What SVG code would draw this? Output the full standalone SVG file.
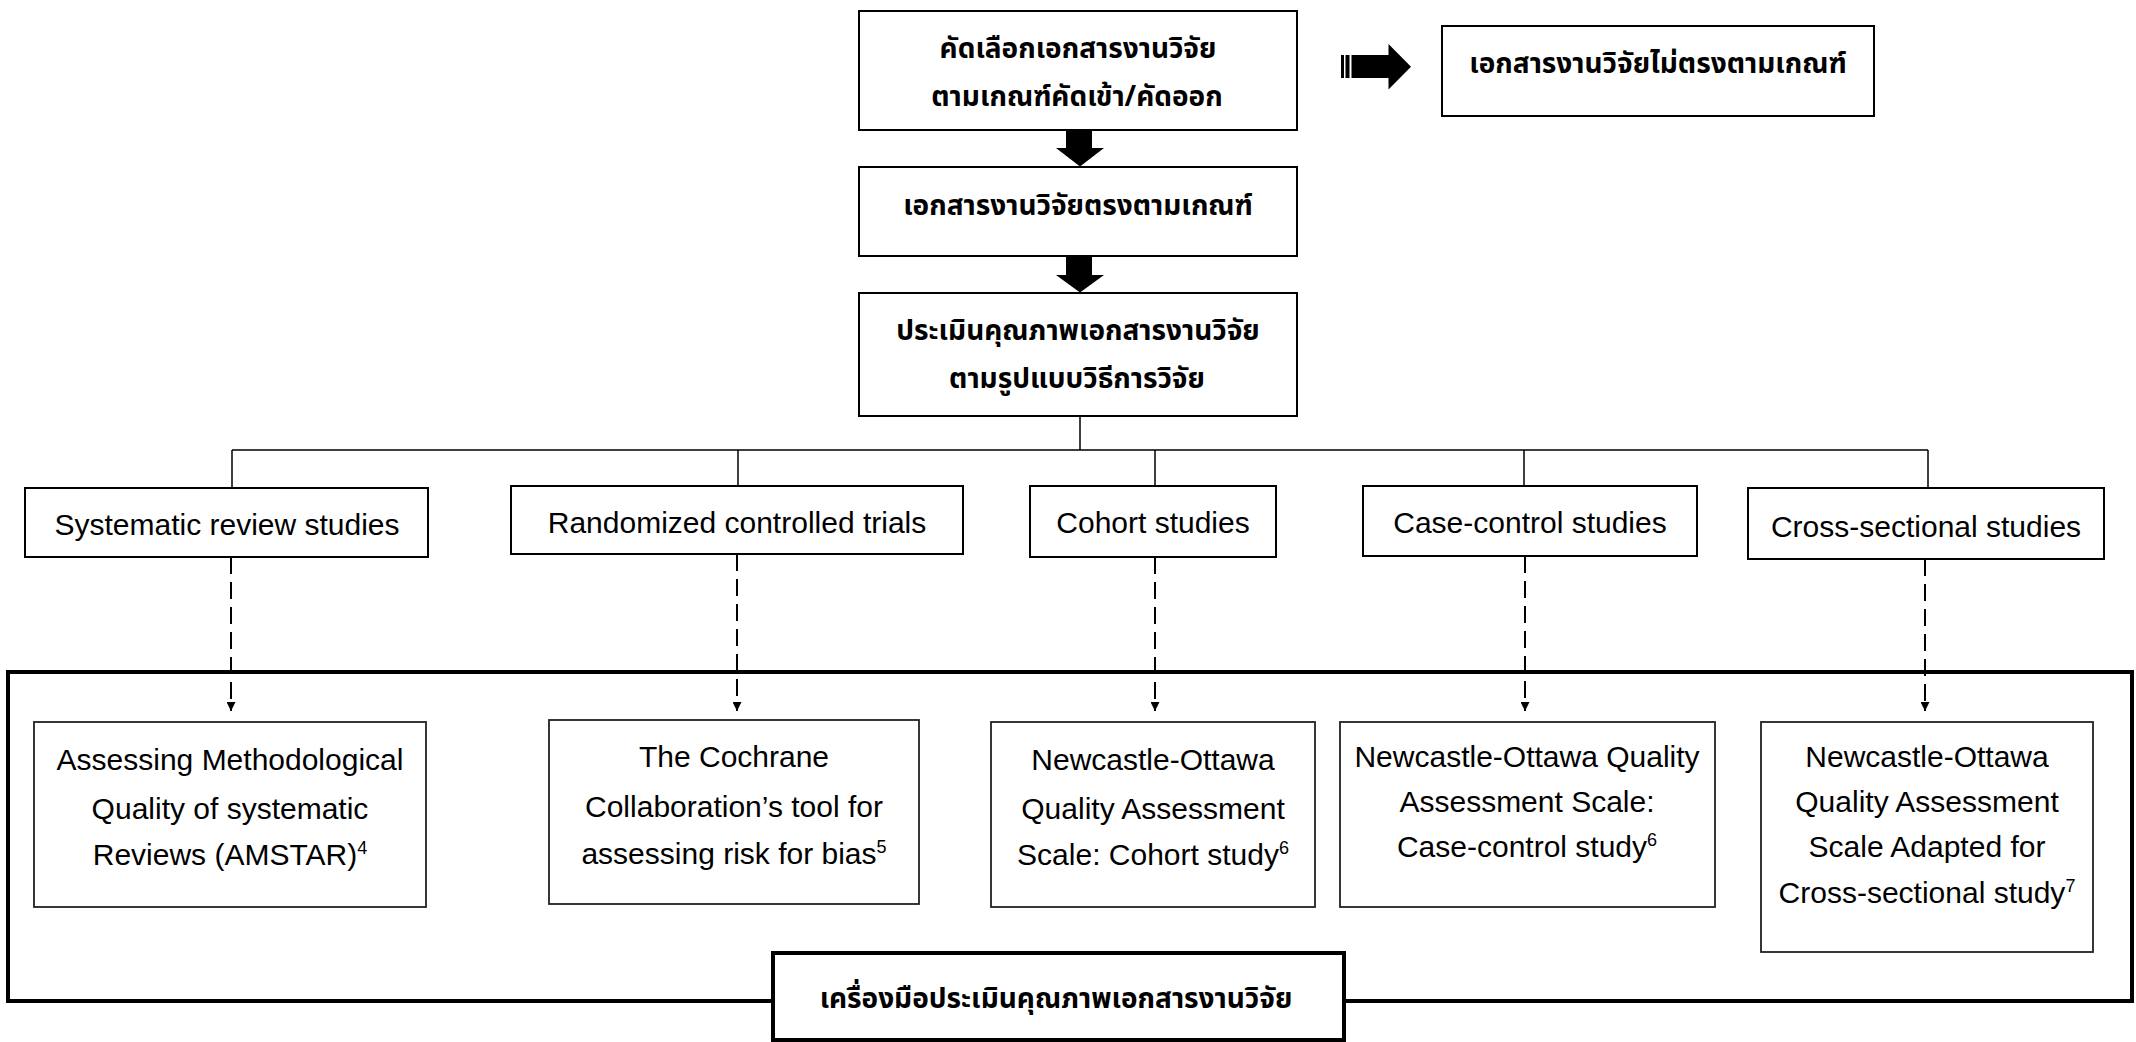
<svg xmlns="http://www.w3.org/2000/svg" width="2136" height="1042" viewBox="0 0 2136 1042">
<style>
.box{fill:#fff;stroke:#000;stroke-width:2}
.tbox{fill:#fff;stroke:#222;stroke-width:1.8}
.th{font-family:"Noto Sans Thai","Noto Sans Thai UI","Loma","Garuda","Norasi","Tlwg Typo","Noto Sans","DejaVu Sans",sans-serif;font-weight:bold;font-size:28px;fill:#000;text-anchor:middle}
.en{font-family:"Liberation Sans","Noto Sans",Arial,sans-serif;font-size:30px;fill:#000;text-anchor:middle}
.sup{font-size:18px}
.tree{fill:none;stroke:#000;stroke-width:1.5}
.dash{fill:none;stroke:#000;stroke-width:2;stroke-dasharray:17 8}
.blk{fill:#000}
</style>
<defs>
<marker id="ah" viewBox="0 0 10 10" refX="10" refY="5" markerWidth="9" markerHeight="9" markerUnits="userSpaceOnUse" orient="auto">
<path d="M0,0 L10,5 L0,10 z" fill="#000"/>
</marker>
</defs>

<!-- outer frame -->
<g id="frame">
<rect x="8" y="672" width="2124" height="329" fill="none" stroke="#000" stroke-width="4"/>
</g>

<g id="connectors">
<path class="tree" d="M1080,416 V450 M232,450 H1928 M232,450 V488 M738,450 V486 M1155,450 V486 M1524,450 V486 M1928,450 V488"/>
<path class="dash" d="M231,557 V711" marker-end="url(#ah)"/>
<path class="dash" d="M737,554 V711" marker-end="url(#ah)"/>
<path class="dash" d="M1155,557 V711" marker-end="url(#ah)"/>
<path class="dash" d="M1525,556 V711" marker-end="url(#ah)"/>
<path class="dash" d="M1925,559 V711" marker-end="url(#ah)"/>
<path class="blk" d="M1066,131 H1092 V148 H1104 L1080,166.5 L1056,148 H1066 Z"/>
<path class="blk" d="M1066,257 H1092 V275 H1104 L1080,292.5 L1056,275 H1066 Z"/>
<rect class="blk" x="1341" y="55" width="3" height="23"/>
<rect class="blk" x="1345.5" y="55" width="4" height="23"/>
<path class="blk" d="M1351.5,55 H1388.5 V44 L1411,66.7 L1388.5,89.5 V78 H1351.5 Z"/>
</g>

<g id="n-screen">
<rect class="box" x="859" y="11" width="438" height="119"/>
<text class="th" x="1078" y="58">คัดเลือกเอกสารงานวิจัย</text>
<text class="th" x="1077" y="106">ตามเกณฑ์คัดเข้า/คัดออก</text>
</g>

<g id="n-excluded">
<rect class="box" x="1442" y="26" width="432" height="90"/>
<text class="th" x="1658" y="73">เอกสารงานวิจัยไม่ตรงตามเกณฑ์</text>
</g>

<g id="n-included">
<rect class="box" x="859" y="167" width="438" height="89"/>
<text class="th" x="1078" y="215">เอกสารงานวิจัยตรงตามเกณฑ์</text>
</g>

<g id="n-appraise">
<rect class="box" x="859" y="293" width="438" height="123"/>
<text class="th" x="1078" y="340">ประเมินคุณภาพเอกสารงานวิจัย</text>
<text class="th" x="1077" y="388">ตามรูปแบบวิธีการวิจัย</text>
</g>

<g id="n-sr">
<rect class="box" x="25" y="488" width="403" height="69"/>
<text class="en" x="227" y="535">Systematic review studies</text>
</g>
<g id="n-rct">
<rect class="box" x="511" y="486" width="452" height="68"/>
<text class="en" x="737" y="533">Randomized controlled trials</text>
</g>
<g id="n-cohort">
<rect class="box" x="1030" y="486" width="246" height="71"/>
<text class="en" x="1153" y="533">Cohort studies</text>
</g>
<g id="n-cc">
<rect class="box" x="1363" y="486" width="334" height="70"/>
<text class="en" x="1530" y="533">Case-control studies</text>
</g>
<g id="n-cs">
<rect class="box" x="1748" y="488" width="356" height="71"/>
<text class="en" x="1926" y="537">Cross-sectional studies</text>
</g>

<g id="t-amstar">
<rect class="tbox" x="34" y="722" width="392" height="185"/>
<text class="en" x="230" y="770">Assessing Methodological</text>
<text class="en" x="230" y="819">Quality of systematic</text>
<text class="en" x="230" y="865">Reviews (AMSTAR)<tspan class="sup" dy="-11">4</tspan></text>
</g>
<g id="t-cochrane">
<rect class="tbox" x="549" y="720" width="370" height="184"/>
<text class="en" x="734" y="767">The Cochrane</text>
<text class="en" x="734" y="817">Collaboration’s tool for</text>
<text class="en" x="734" y="864">assessing risk for bias<tspan class="sup" dy="-11">5</tspan></text>
</g>
<g id="t-nos-cohort">
<rect class="tbox" x="991" y="722" width="324" height="185"/>
<text class="en" x="1153" y="770">Newcastle-Ottawa</text>
<text class="en" x="1153" y="819">Quality Assessment</text>
<text class="en" x="1153" y="865">Scale: Cohort study<tspan class="sup" dy="-11">6</tspan></text>
</g>
<g id="t-nos-cc">
<rect class="tbox" x="1340" y="722" width="375" height="185"/>
<text class="en" x="1527" y="767">Newcastle-Ottawa Quality</text>
<text class="en" x="1527" y="812">Assessment Scale:</text>
<text class="en" x="1527" y="857">Case-control study<tspan class="sup" dy="-11">6</tspan></text>
</g>
<g id="t-nos-cs">
<rect class="tbox" x="1761" y="722" width="332" height="230"/>
<text class="en" x="1927" y="767">Newcastle-Ottawa</text>
<text class="en" x="1927" y="812">Quality Assessment</text>
<text class="en" x="1927" y="857">Scale Adapted for</text>
<text class="en" x="1927" y="903">Cross-sectional study<tspan class="sup" dy="-11">7</tspan></text>
</g>

<g id="n-tools-label">
<rect x="773" y="953" width="571" height="87" fill="#fff" stroke="#000" stroke-width="4"/>
<text class="th" x="1056" y="1008">เครื่องมือประเมินคุณภาพเอกสารงานวิจัย</text>
</g>
</svg>
